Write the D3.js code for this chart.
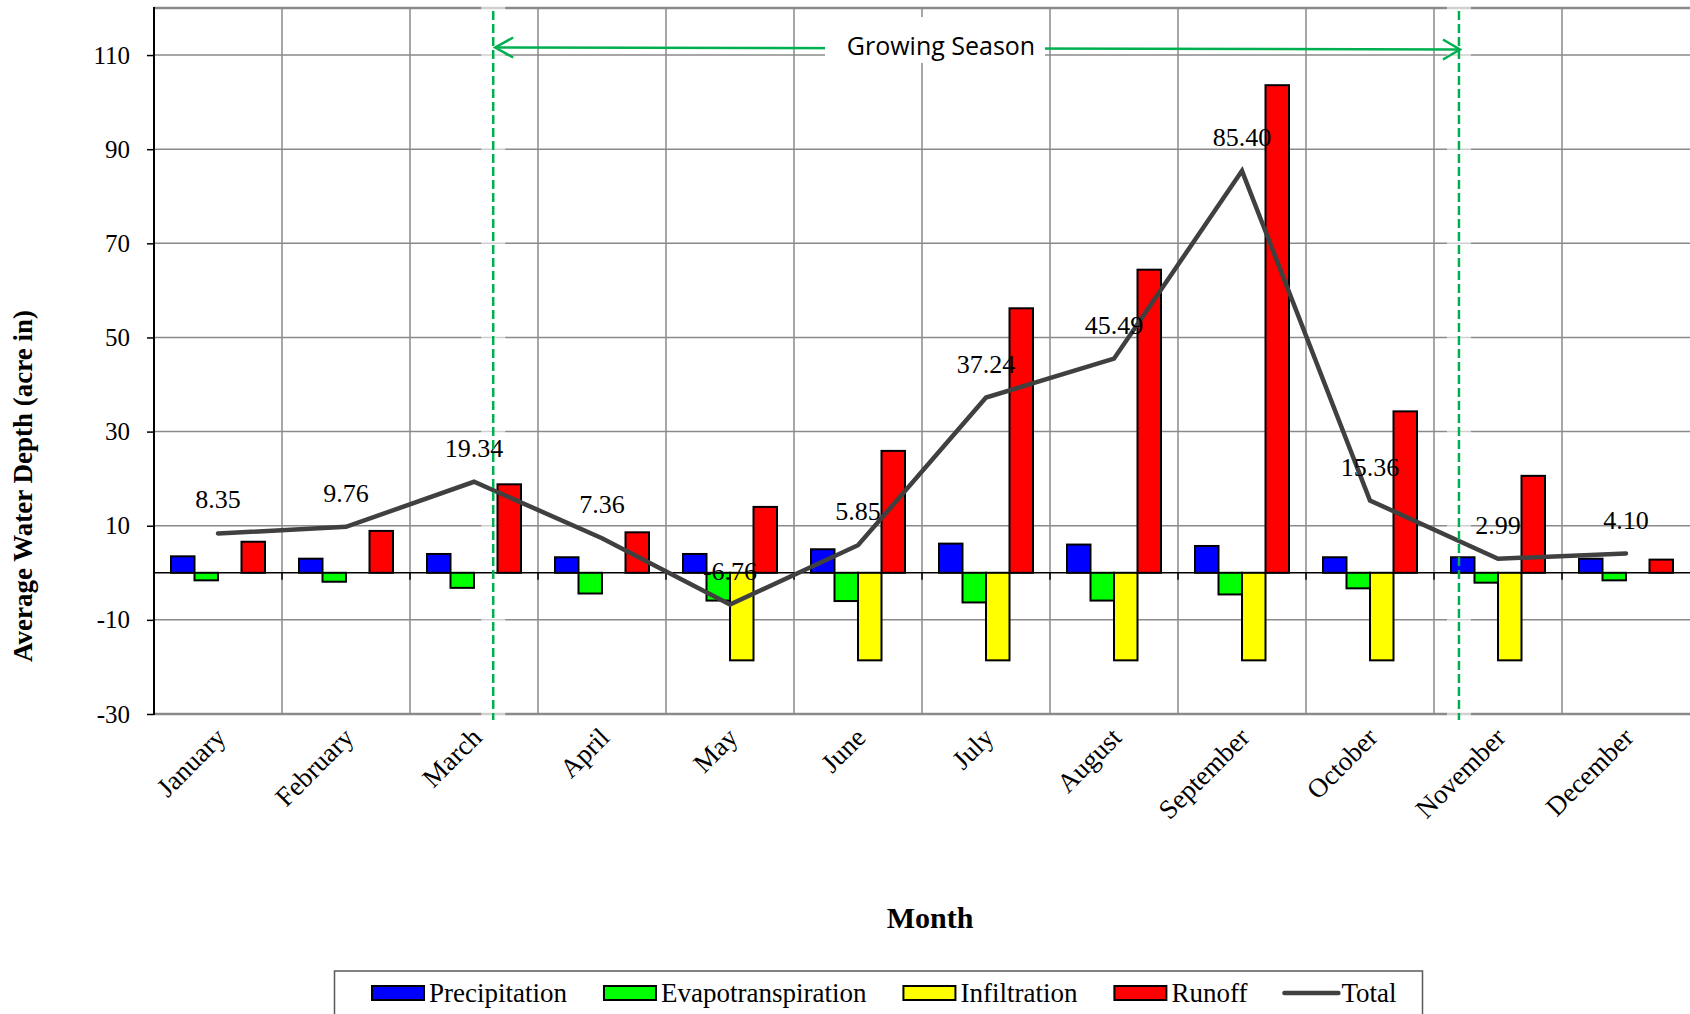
<!DOCTYPE html>
<html>
<head>
<meta charset="utf-8">
<script src="https://cdn.jsdelivr.net/npm/d3@7"></script>
<style>
  html, body { margin: 0; padding: 0; background: #fff; }
  svg { display: block; }
</style>
</head>
<body>
<svg id="chart" width="1690" height="1014"></svg>
<script>
// ---------------- data ----------------
const months = ["January","February","March","April","May","June","July","August","September","October","November","December"];
const seriesNames = ["Precipitation","Evapotranspiration","Infiltration","Runoff"];
const seriesColors = ["#0000FF","#00FF00","#FFFF00","#FF0000"];
const precipitation      = [3.5, 3.0, 4.0, 3.3, 4.0, 5.0, 6.2, 6.0, 5.7, 3.3, 3.3, 3.0];
const evapotranspiration = [-1.6, -1.9, -3.2, -4.4, -5.9, -6.0, -6.3, -5.9, -4.6, -3.3, -2.1, -1.6];
const infiltration       = [0, 0, 0, 0, -18.6, -18.6, -18.6, -18.6, -18.6, -18.6, -18.6, 0];
const runoff             = [6.6, 8.9, 18.8, 8.6, 14.0, 25.9, 56.2, 64.4, 103.6, 34.3, 20.6, 2.8];
const total              = [8.35, 9.76, 19.34, 7.36, -6.76, 5.85, 37.24, 45.49, 85.40, 15.36, 2.99, 4.10];
const totalName = "Total";
const yTicks = [-30, -10, 10, 30, 50, 70, 90, 110];
const yDomain = [-30, 120];
const growingSeasonLabel = "Growing Season";
const growingSeasonMonths = ["March", "November"];
const yTitle = "Average Water Depth (acre in)";
const xTitle = "Month";

// ---------------- layout ----------------
const svg = d3.select("#chart");
const plot = { left: 154, right: 1690, top: 8, bottom: 714 };
const serif = "'Liberation Serif','Times New Roman',serif";
const gridColor = "#8a8a8a";
const green = "#00B050";

const x = d3.scaleBand().domain(months).range([plot.left, plot.right]).padding(0);
const bw = x.bandwidth();
const groupPad = 17;
const xs = d3.scaleBand().domain(seriesNames).range([groupPad, bw - groupPad]).padding(0);
const y = d3.scaleLinear().domain(yDomain).range([plot.bottom, plot.top]);

const seriesValues = [precipitation, evapotranspiration, infiltration, runoff];

// gridlines
const grid = svg.append("g");
grid.selectAll("line.h").data(yTicks).join("line")
  .attr("x1", plot.left).attr("x2", plot.right)
  .attr("y1", d => y(d)).attr("y2", d => y(d))
  .attr("stroke", gridColor).attr("stroke-width", d => d === yDomain[0] ? 2.5 : 1.5);
grid.selectAll("line.v").data(months.slice(1)).join("line")
  .attr("x1", d => x(d)).attr("x2", d => x(d))
  .attr("y1", plot.top).attr("y2", plot.bottom)
  .attr("stroke", gridColor).attr("stroke-width", 1.5);
// top border
grid.append("line").attr("x1", plot.left).attr("x2", plot.right)
  .attr("y1", y(yDomain[1])).attr("y2", y(yDomain[1]))
  .attr("stroke", gridColor).attr("stroke-width", 2.5);

// growing season marker positions
const gsX = [x(growingSeasonMonths[0]) + bw * 0.65, x(growingSeasonMonths[1]) + bw * 0.195];

// soft white glow behind dashed lines
svg.append("g").selectAll("rect").data(gsX).join("rect")
  .attr("x", d => d - 12).attr("width", 24)
  .attr("y", 5).attr("height", 715)
  .attr("fill", "#fff").attr("opacity", 0.6);

// y axis
const yAxis = d3.axisLeft(y).tickValues(yTicks).tickSize(7).tickPadding(17).tickFormat(d => String(d));
const ya = svg.append("g").attr("transform", `translate(${plot.left},0)`).call(yAxis);
ya.select(".domain").remove();
ya.selectAll(".tick line").attr("stroke", "#000").attr("stroke-width", 1.5);
ya.selectAll(".tick text").attr("font-family", serif).attr("font-size", 25).attr("fill", "#000");
svg.append("line").attr("x1", plot.left).attr("x2", plot.left)
  .attr("y1", plot.top - 1).attr("y2", plot.bottom + 1)
  .attr("stroke", "#000").attr("stroke-width", 2);

// zero axis line + category ticks
svg.append("line").attr("x1", plot.left).attr("x2", plot.right)
  .attr("y1", y(0)).attr("y2", y(0)).attr("stroke", "#000").attr("stroke-width", 1.5);
svg.append("g").selectAll("line").data(months.slice(1)).join("line")
  .attr("x1", d => x(d)).attr("x2", d => x(d))
  .attr("y1", y(0)).attr("y2", y(0) + 7)
  .attr("stroke", "#000").attr("stroke-width", 1.5);

// bars
const barData = [];
months.forEach((m, i) => {
  seriesNames.forEach((s, j) => {
    const v = seriesValues[j][i];
    if (v !== 0) barData.push({ m, s, v, c: seriesColors[j] });
  });
});
svg.append("g").selectAll("rect").data(barData).join("rect")
  .attr("x", d => x(d.m) + xs(d.s))
  .attr("width", xs.bandwidth())
  .attr("y", d => y(Math.max(0, d.v)))
  .attr("height", d => Math.abs(y(d.v) - y(0)))
  .attr("fill", d => d.c)
  .attr("stroke", "#000").attr("stroke-width", 2);

// total line
const lineData = months.map((m, i) => ({ m, v: total[i] }));
svg.append("path").datum(lineData)
  .attr("d", d3.line().x(d => x(d.m) + bw / 2).y(d => y(d.v)))
  .attr("fill", "none").attr("stroke", "#404040").attr("stroke-width", 4.5)
  .attr("stroke-linejoin", "miter").attr("stroke-linecap", "round");

// data labels
svg.append("g").selectAll("text").data(lineData).join("text")
  .attr("x", d => x(d.m) + bw / 2)
  .attr("y", d => y(d.v) - 25)
  .attr("text-anchor", "middle")
  .attr("font-family", serif).attr("font-size", 26).attr("fill", "#000")
  .text(d => d.v.toFixed(2));

// category labels
svg.append("g").selectAll("text").data(months).join("text")
  .attr("transform", d => `translate(${x(d) + bw / 2 + 2.5},${plot.bottom + 18.5}) rotate(-45)`)
  .attr("text-anchor", "end")
  .attr("dy", "0.35em")
  .attr("font-family", serif).attr("font-size", 27).attr("fill", "#000")
  .text(d => d);

// growing season dashed lines
svg.append("g").selectAll("line").data(gsX).join("line")
  .attr("x1", d => d).attr("x2", d => d)
  .attr("y1", 11).attr("y2", 720)
  .attr("stroke", green).attr("stroke-width", 2.5).attr("stroke-dasharray", "9,4");

// growing season arrow
const arrowY = [47.5, 49.5];
svg.append("line").attr("x1", gsX[0] + 2).attr("x2", gsX[1] + 1)
  .attr("y1", arrowY[0]).attr("y2", arrowY[1])
  .attr("stroke", green).attr("stroke-width", 2.5);
svg.append("path")
  .attr("d", `M${gsX[0] + 20},${arrowY[0] - 10} L${gsX[0] + 2},${arrowY[0]} L${gsX[0] + 20},${arrowY[0] + 10}`)
  .attr("fill", "none").attr("stroke", green).attr("stroke-width", 2.5);
svg.append("path")
  .attr("d", `M${gsX[1] - 16},${arrowY[1] - 10} L${gsX[1] + 1},${arrowY[1]} L${gsX[1] - 16},${arrowY[1] + 10}`)
  .attr("fill", "none").attr("stroke", green).attr("stroke-width", 2.5);
const gsCenter = 941;
svg.append("rect").attr("x", gsCenter - 116).attr("y", 17).attr("width", 220).attr("height", 46).attr("fill", "#fff");
svg.append("text").attr("x", gsCenter).attr("y", 55)
  .attr("text-anchor", "middle")
  .attr("font-family", "'Open Sans','Noto Sans',sans-serif").attr("font-size", 25).attr("fill", "#000")
  .text(growingSeasonLabel);

// axis titles
svg.append("text")
  .attr("transform", "translate(32,486) rotate(-90)")
  .attr("text-anchor", "middle")
  .attr("font-family", serif).attr("font-weight", "bold").attr("font-size", 27)
  .text(yTitle);
svg.append("text").attr("x", 930).attr("y", 928)
  .attr("text-anchor", "middle")
  .attr("font-family", serif).attr("font-weight", "bold").attr("font-size", 30)
  .text(xTitle);

// legend
const legend = svg.append("g");
legend.append("rect").attr("x", 334.5).attr("y", 971).attr("width", 1088).attr("height", 60)
  .attr("fill", "#fff").attr("stroke", "#595959").attr("stroke-width", 1.5);
let lx = 372;
const legendItems = seriesNames.map((s, j) => ({ name: s, color: seriesColors[j], type: "bar" }))
  .concat([{ name: totalName, color: "#404040", type: "line" }]);
legendItems.forEach(it => {
  if (it.type === "bar") {
    legend.append("rect").attr("x", lx).attr("y", 986).attr("width", 52).attr("height", 14)
      .attr("fill", it.color).attr("stroke", "#000").attr("stroke-width", 2);
  } else {
    legend.append("line").attr("x1", lx).attr("x2", lx + 54).attr("y1", 993).attr("y2", 993)
      .attr("stroke", it.color).attr("stroke-width", 4.5).attr("stroke-linecap", "round");
  }
  const t = legend.append("text").attr("x", lx + 57).attr("y", 1002)
    .attr("font-family", serif).attr("font-size", 27).attr("fill", "#000").text(it.name);
  lx += 57 + t.node().getComputedTextLength() + 37;
});
</script>
</body>
</html>
